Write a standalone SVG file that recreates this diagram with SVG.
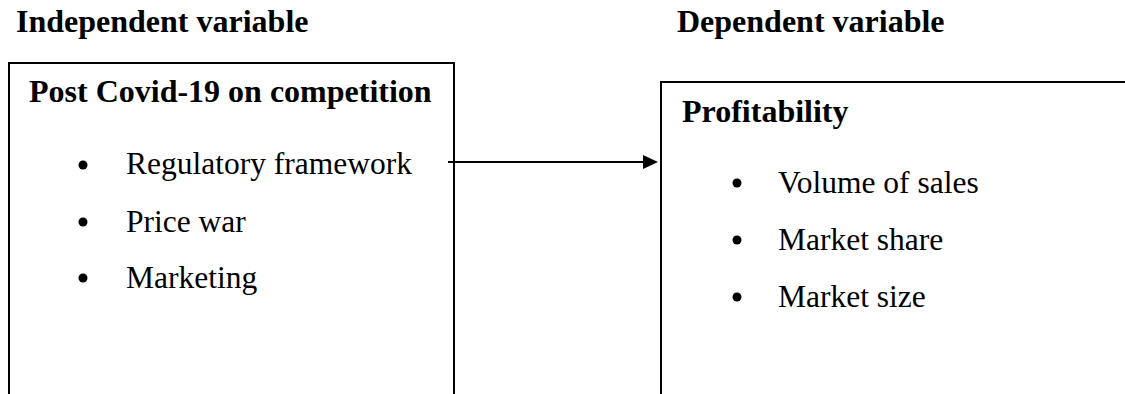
<svg xmlns="http://www.w3.org/2000/svg" width="1125" height="394" viewBox="0 0 1125 394">
<style>
.h{font-family:"Liberation Serif","Times New Roman",serif;font-weight:bold;font-size:32px;fill:#000}
.t{font-family:"Liberation Serif","Times New Roman",serif;font-size:31.5px;fill:#000}
.box{fill:none;stroke:#000;stroke-width:2}
.b{fill:#000}
</style>
<rect width="1125" height="394" fill="#fff"/>
<text class="h" x="16" y="32">Independent variable</text>
<text class="h" x="677" y="32">Dependent variable</text>
<g id="independent">
<path class="box" d="M9,400 V63 H454 V400"/>
<text class="h" x="29" y="102">Post Covid-19 on competition</text>
<circle class="b" cx="83" cy="165" r="4.5"/>
<text class="t" x="126" y="174">Regulatory framework</text>
<circle class="b" cx="83" cy="222" r="4.5"/>
<text class="t" x="126" y="232">Price war</text>
<circle class="b" cx="83" cy="278" r="4.5"/>
<text class="t" x="126" y="288">Marketing</text>
</g>
<g id="dependent">
<path class="box" d="M661,400 V82 H1130"/>
<text class="h" x="682" y="122">Profitability</text>
<circle class="b" cx="737" cy="183" r="4.5"/>
<text class="t" x="778" y="193">Volume of sales</text>
<circle class="b" cx="737" cy="240" r="4.5"/>
<text class="t" x="778" y="250">Market share</text>
<circle class="b" cx="737" cy="297" r="4.5"/>
<text class="t" x="778" y="307">Market size</text>
</g>
<g id="connectors">
<line x1="448" y1="162" x2="644" y2="162" stroke="#000" stroke-width="2"/>
<path d="M643,155 L658,162 L643,169 Z" fill="#000"/>
</g>
</svg>
